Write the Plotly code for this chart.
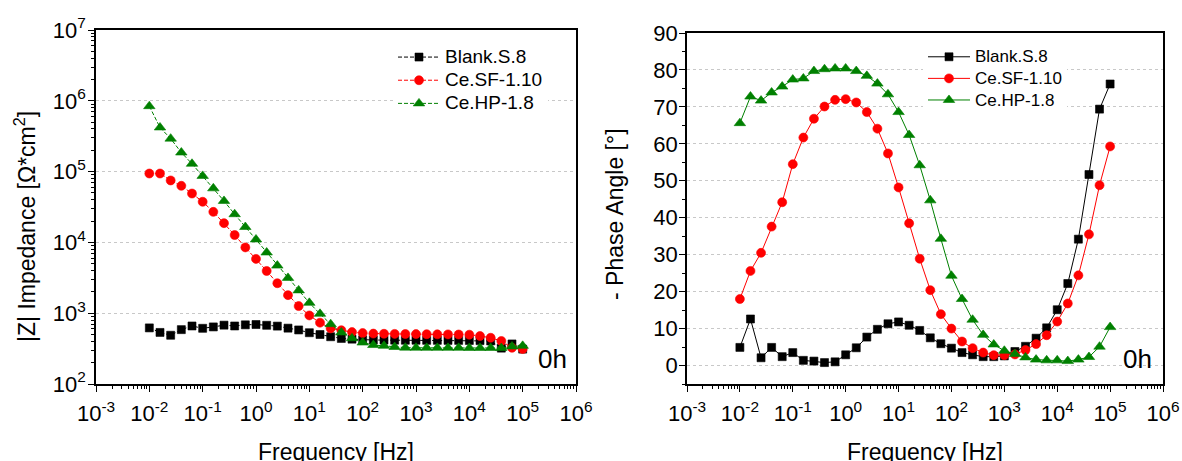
import plotly.graph_objects as go

# ---------------- data ----------------
freq = [1.0e-2, 1.585e-2, 2.512e-2, 3.981e-2, 6.310e-2,
        1.0e-1, 1.585e-1, 2.512e-1, 3.981e-1, 6.310e-1,
        1.0, 1.585, 2.512, 3.981, 6.310,
        10.0, 15.85, 25.12, 39.81, 63.10,
        100.0, 158.5, 251.2, 398.1, 631.0,
        1000.0, 1585.0, 2512.0, 3981.0, 6310.0,
        1.0e4, 1.585e4, 2.512e4, 3.981e4, 6.310e4,
        1.0e5]

series_names = ["Blank.S.8", "Ce.SF-1.10", "Ce.HP-1.8"]

z_blank = [620, 535, 488, 586, 660, 612, 640, 678, 660, 685,
           692, 675, 657, 615, 580, 530, 500, 465, 440, 430,
           420, 418, 417, 416, 415, 415, 414, 414, 413, 413,
           412, 410, 405, 321, 368, 311]
z_sf = [94000, 94000, 75000, 63000, 49000, 37500, 27000, 18700, 12700, 8500,
        5850, 3950, 2650, 1800, 1260, 930, 735, 610, 575, 541,
        524, 515, 512, 510, 508, 507, 505, 503, 502, 500,
        497, 476, 450, 405, 325, 312]
z_hp = [840000, 420000, 292000, 186000, 129000, 87000, 58000, 38500, 25000, 16500,
        11000, 7200, 4700, 3150, 2100, 1400, 980, 700, 535, 442,
        385, 355, 346, 333, 326, 325, 324, 324, 324, 324,
        323, 323, 323, 322, 339, 346]

ph_blank = [4.9, 12.6, 2.1, 4.9, 2.4, 3.5, 1.4, 1.2, 0.8, 1.0,
            2.9, 4.8, 7.7, 9.8, 11.3, 11.8, 10.9, 9.5, 7.5, 5.9,
            4.7, 3.5, 2.9, 2.4, 2.4, 2.6, 3.8, 5.2, 7.4, 10.2,
            15.1, 22.2, 34.2, 51.7, 69.4, 76.2]
ph_sf = [18.0, 25.6, 30.5, 37.6, 44.2, 54.5, 61.7, 66.8, 70.1, 71.9,
         72.1, 71.2, 68.6, 64.1, 57.4, 48.2, 38.5, 28.9, 20.4, 13.9,
         10.0, 6.5, 4.7, 3.5, 2.8, 2.8, 3.0, 4.2, 5.8, 8.2,
         11.9, 16.8, 24.4, 35.5, 48.8, 59.3]
ph_hp = [65.6, 72.8, 71.7, 73.9, 75.5, 77.4, 77.7, 79.7, 80.2, 80.4,
         80.4, 79.7, 78.4, 76.3, 73.4, 68.6, 62.4, 54.2, 44.7, 34.3,
         24.3, 18.0, 12.4, 8.3, 5.7, 4.0, 3.1, 2.2, 1.6, 1.4,
         1.4, 1.2, 1.6, 2.3, 5.1, 10.4]

x_tickvals = [1e-3, 1e-2, 1e-1, 1e0, 1e1, 1e2, 1e3, 1e4, 1e5, 1e6]
x_ticktext = ["10<sup>-3</sup>", "10<sup>-2</sup>", "10<sup>-1</sup>", "10<sup>0</sup>",
              "10<sup>1</sup>", "10<sup>2</sup>", "10<sup>3</sup>", "10<sup>4</sup>",
              "10<sup>5</sup>", "10<sup>6</sup>"]
z_tickvals = [1e2, 1e3, 1e4, 1e5, 1e6, 1e7]
z_ticktext = ["10<sup>2</sup>", "10<sup>3</sup>", "10<sup>4</sup>",
              "10<sup>5</sup>", "10<sup>6</sup>", "10<sup>7</sup>"]
ph_tickvals = [0, 10, 20, 30, 40, 50, 60, 70, 80, 90]

# ---------------- styling ----------------
W, H = 1182, 461
FONT = "Arial, 'Liberation Sans', sans-serif"
colors = ["#000000", "#ff0000", "#008000"]
symbols = ["square", "circle", "triangle-up"]
msizes = [8, 9, 10]

def px_x(p):
    return p / W

def px_y(p):
    return (H - p) / H

log_minor_x = [m * 10.0 ** e for e in range(-3, 6) for m in range(2, 10)]
log_minor_y = [m * 10.0 ** e for e in range(2, 7) for m in range(2, 10)]

fig = go.Figure()

def legend_label(name, size):
    return "<span style='font-size:%dpx'>%s</span>" % (size, name)

z_series = [z_blank, z_sf, z_hp]
ph_series = [ph_blank, ph_sf, ph_hp]
for i in range(3):
    fig.add_trace(go.Scatter(
        x=freq, y=z_series[i], name=legend_label(series_names[i], 19), mode="lines+markers",
        line=dict(color=colors[i], width=1, dash="4px,2px"),
        marker=dict(symbol=symbols[i], size=msizes[i], color=colors[i],
                    line=dict(width=0.6, color=colors[i])),
        xaxis="x", yaxis="y", legend="legend"))
for i in range(3):
    fig.add_trace(go.Scatter(
        x=freq, y=ph_series[i], name=legend_label(series_names[i], 17), mode="lines+markers",
        line=dict(color=colors[i], width=1),
        marker=dict(symbol=symbols[i], size=msizes[i], color=colors[i],
                    line=dict(width=0.6, color=colors[i])),
        xaxis="x2", yaxis="y2", legend="legend2"))

tickfont = dict(family=FONT, size=22, color="black")
common = dict(showline=True, linecolor="black", linewidth=1.5, ticks="outside",
              ticklen=6, tickwidth=1.2, tickcolor="black", tickfont=tickfont,
              zeroline=False, mirror=True, automargin=False)

left_x_dom = [px_x(96), px_x(576)]
right_x_dom = [px_x(687), px_x(1163)]
left_y_dom = [px_y(384), px_y(30)]
right_y_dom = [px_y(384), px_y(33)]

grid = dict(showgrid=True, gridcolor="#c8c8c8", griddash="dot", gridwidth=1)

def inner_axis(**kw):
    d = dict(showticklabels=False, ticks="inside", ticklen=5, tickcolor="black",
             showgrid=False, showline=False, zeroline=False, automargin=False)
    d.update(kw)
    return d

fig.update_layout(
    template="none",
    xaxis=dict(type="log", range=[-3, 6], domain=left_x_dom, anchor="y",
               tickmode="array", tickvals=x_tickvals, ticktext=x_ticktext,
               showgrid=False, ticklabelstandoff=3,
               minor=dict(tickmode="array", tickvals=log_minor_x, ticks="outside",
                          ticklen=3, tickcolor="black", showgrid=False),
               **common),
    yaxis=dict(type="log", range=[2, 7], domain=left_y_dom, anchor="x",
               tickmode="array", tickvals=z_tickvals, ticktext=z_ticktext,
               ticklabelstandoff=-2,
               minor=dict(tickmode="array", tickvals=log_minor_y, ticks="outside",
                          ticklen=3, tickcolor="black", showgrid=False),
               **grid, **common),
    xaxis2=dict(type="log", range=[-3, 6], domain=right_x_dom, anchor="y2",
                tickmode="array", tickvals=x_tickvals, ticktext=x_ticktext,
                showgrid=False, ticklabelstandoff=3,
                minor=dict(tickmode="array", tickvals=log_minor_x, ticks="outside",
                           ticklen=3, tickcolor="black", showgrid=False),
                **common),
    yaxis2=dict(range=[-5, 90], domain=right_y_dom, anchor="x2",
                tickmode="array", tickvals=ph_tickvals, ticklabelstandoff=-3,
                minor=dict(tickmode="linear", tick0=-5, dtick=5, ticks="outside",
                           ticklen=3, tickcolor="black", showgrid=False),
                **grid, **common),
    # inside ticks on top / right (mirror side)
    xaxis3=inner_axis(type="log", range=[-3, 6], overlaying="x", side="top", anchor="y",
                      tickmode="array", tickvals=x_tickvals,
                      minor=dict(tickmode="array", tickvals=log_minor_x, ticks="inside",
                                 ticklen=3, tickcolor="black", showgrid=False)),
    yaxis3=inner_axis(type="log", range=[2, 7], overlaying="y", side="right", anchor="x",
                      tickmode="array", tickvals=z_tickvals,
                      minor=dict(tickmode="array", tickvals=log_minor_y, ticks="inside",
                                 ticklen=3, tickcolor="black", showgrid=False)),
    xaxis4=inner_axis(type="log", range=[-3, 6], overlaying="x2", side="top", anchor="y2",
                      tickmode="array", tickvals=x_tickvals,
                      minor=dict(tickmode="array", tickvals=log_minor_x, ticks="inside",
                                 ticklen=3, tickcolor="black", showgrid=False)),
    yaxis4=inner_axis(range=[-5, 90], overlaying="y2", side="right", anchor="x2",
                      tickmode="array", tickvals=ph_tickvals,
                      minor=dict(tickmode="linear", tick0=-5, dtick=5, ticks="inside",
                                 ticklen=3, tickcolor="black", showgrid=False)),
    legend=dict(x=px_x(393), y=px_y(40.5), xanchor="left", yanchor="top",
                bgcolor="white", borderwidth=0, itemwidth=42,
                font=dict(family=FONT, size=15.5, color="black")),
    legend2=dict(x=px_x(923), y=px_y(41), xanchor="left", yanchor="top",
                 bgcolor="white", borderwidth=0, itemwidth=42,
                 font=dict(family=FONT, size=14.3, color="black")),
    width=W, height=H,
    margin=dict(l=0, r=0, t=0, b=0, autoexpand=False),
    paper_bgcolor="white", plot_bgcolor="white",
    font=dict(family=FONT, color="black"),
    showlegend=True,
)

title_font = dict(family=FONT, size=23, color="black")
annos = [
    dict(text="|Z| Impedance [Ω*cm<sup>2</sup>]", x=px_x(25), y=px_y(227), textangle=-90),
    dict(text="- Phase Angle [°]", x=px_x(615), y=px_y(214), textangle=-90),
    dict(text="Frequency [Hz]", x=px_x(336), y=px_y(452)),
    dict(text="Frequency [Hz]", x=px_x(925), y=px_y(452)),
]
for a in annos:
    fig.add_annotation(xref="paper", yref="paper", xanchor="center", yanchor="middle",
                       showarrow=False, font=title_font, **a)
for xc in [552, 1137]:
    fig.add_annotation(text="0h", xref="paper", yref="paper", x=px_x(xc), y=px_y(359),
                       xanchor="center", yanchor="middle", showarrow=False,
                       font=dict(family=FONT, size=26, color="black"))

fig.write_html("out.html")
